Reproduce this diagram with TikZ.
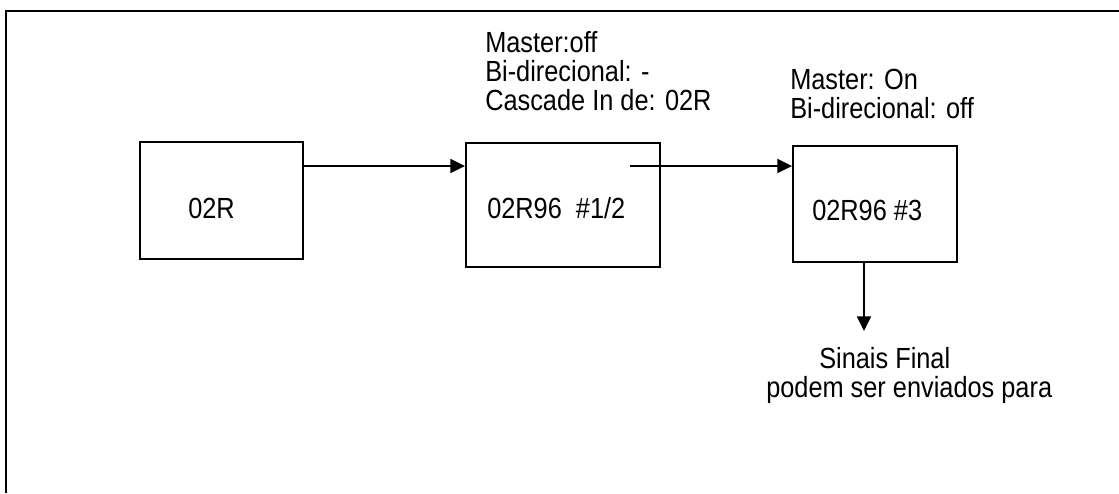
\documentclass[tikz,border=0pt]{standalone}
\usepackage{fontspec}
\setmainfont{Liberation Sans}
\usetikzlibrary{arrows.meta}
\tikzset{
  frameline/.style={line width=2pt, black},
  boxnode/.style={draw, line width=1.4pt, inner sep=0pt, rectangle},
  arr/.style={line width=1.4pt, -{Triangle[length=11pt, width=10.5pt]}},
  txt/.style={inner sep=0pt, font=\fontsize{19pt}{18.9pt}\selectfont, yscale=1.15, transform shape},
}
\begin{document}
\begin{tikzpicture}[x=0.75pt, y=-0.75pt]
\useasboundingbox (0,0) rectangle (1119,493);
% outer frame (open at right and bottom)
\draw[frameline] (6,493) -- (6,11) -- (1119,11);
% boxes
\node[boxnode, minimum width=122.25pt, minimum height=87.75pt] (box1) at (221.5,200.5) {};
\node[boxnode, minimum width=145.5pt, minimum height=93pt] (box2) at (563,205) {};
\node[boxnode, minimum width=123pt, minimum height=87pt] (box3) at (875,204) {};
% box texts
\node[txt, anchor=base west] (t1) at (188,218) {02R};
\node[txt, anchor=base west] (t2) at (487,218) {02R96\ \ \#1/2};
\node[txt, anchor=base west] (t3) at (812,220) {02R96 \#3};
% annotations (base anchor = baseline of the last line)
\node[txt, anchor=base west, align=left] (n2) at (485,110) {Master:off\\Bi-direcional: -\\Cascade In de: 02R};
\node[txt, anchor=base west, align=left] (n3) at (790,118) {Master: On\\Bi-direcional: off};
\node[txt, anchor=base west, align=left] (n4) at (766,397) {\hspace*{39.75pt}Sinais Final\\podem ser enviados para};
% connectors
\coordinate (a2s) at (630,166);
\coordinate (a3e) at (864,331);
\draw[arr] (box1.east |- 0,166) -- (box2.west |- 0,166);
\draw[arr] (a2s) -- (box3.west |- a2s);
\draw[arr] (box3.south -| a3e) -- (a3e);
\end{tikzpicture}
\end{document}
